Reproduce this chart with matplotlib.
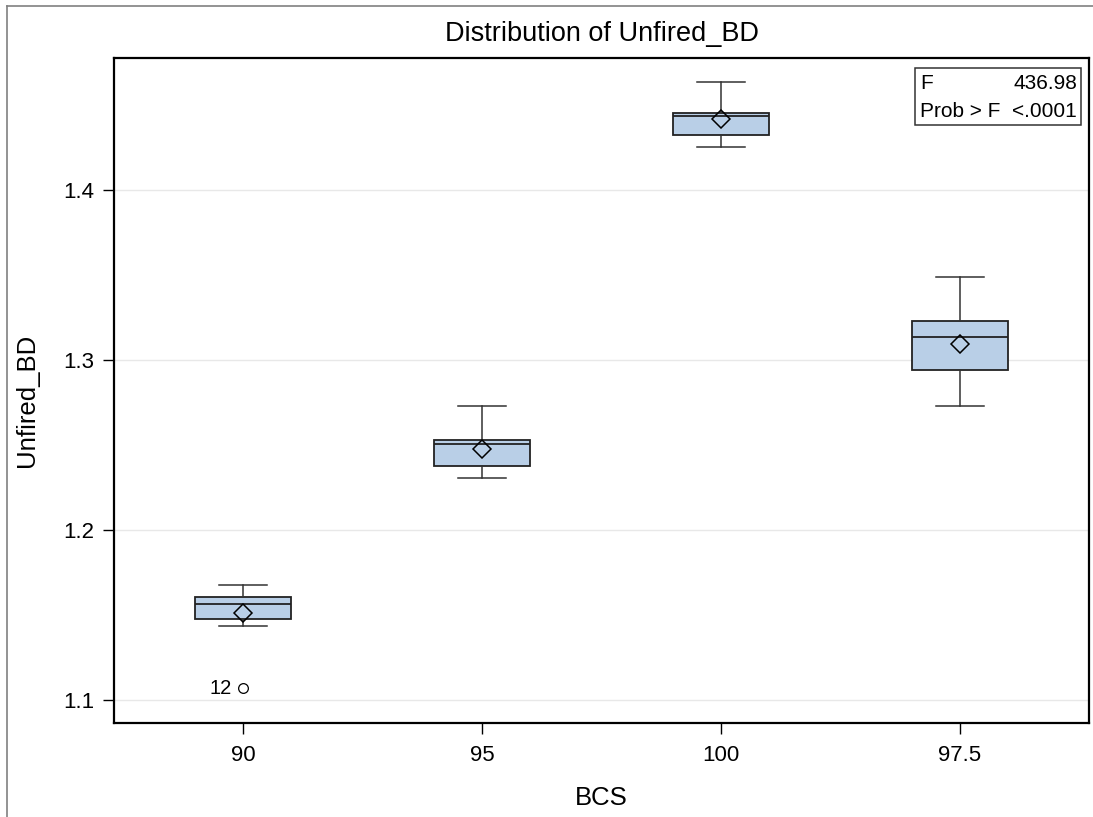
import matplotlib
matplotlib.use('Agg')

import matplotlib.pyplot as plt
from matplotlib.lines import Line2D
from matplotlib.patches import Rectangle

plt.rcParams['font.family'] = ['Liberation Sans', 'DejaVu Sans']

# values
groups = ['90', '95', '100', '97.5']
whisk_hi = [1.1676, 1.2731, 1.4637, 1.3492]
q3 = [1.1608, 1.2529, 1.4456, 1.3231]
medians = [1.1568, 1.2506, 1.4437, 1.3139]
q1 = [1.1476, 1.2378, 1.4325, 1.2943]
whisk_lo = [1.1437, 1.2309, 1.4255, 1.2731]
means = [1.1515, 1.2476, 1.4418, 1.3098]
outliers = [[1.1071], [], [], []]
outlier_ids = [['12'], [], [], []]

f_value = '436.98'
p_value = '<.0001'

stats = []
for i, g in enumerate(groups):
    stats.append(dict(label=g, med=medians[i], q1=q1[i], q3=q3[i],
                      whislo=whisk_lo[i], whishi=whisk_hi[i],
                      mean=means[i], fliers=outliers[i]))

fig = plt.figure(figsize=(10.93, 8.17), dpi=100)
ax = fig.add_axes([114 / 1093, (817 - 723) / 817, 975 / 1093, 665 / 817])

ax.set_axisbelow(True)
ax.yaxis.grid(True, color='#e8e8e8', linewidth=1)

ax.bxp(stats, positions=range(len(groups)), widths=0.4, capwidths=0.2,
       patch_artist=True, showmeans=True,
       boxprops=dict(facecolor='#B9CFE7', edgecolor='#222222', linewidth=1.3),
       medianprops=dict(color='#222222', linewidth=1.3),
       whiskerprops=dict(color='#333333', linewidth=1.1),
       capprops=dict(color='#333333', linewidth=1.1),
       meanprops=dict(marker='D', markerfacecolor='none', markeredgecolor='black',
                      markersize=9.5, markeredgewidth=1.1),
       flierprops=dict(marker='o', markerfacecolor='none', markeredgecolor='black',
                       markersize=7, markeredgewidth=0.9))

# label the outlier with its observation number
for i, (vals, ids) in enumerate(zip(outliers, outlier_ids)):
    for v, lab in zip(vals, ids):
        ax.annotate(lab, xy=(i, v), xytext=(-8, 0), textcoords='offset points',
                    ha='right', va='center', fontsize=14.5)

ax.set_xlim(-0.54, 3.54)
ax.set_ylim(1.0865, 1.4779)
ax.set_yticks([1.1, 1.2, 1.3, 1.4])
ax.set_yticklabels(['1.1', '1.2', '1.3', '1.4'])
ax.tick_params(direction='out', length=8, width=1, labelsize=16, pad=6)
ax.tick_params(axis='x', pad=8)
for s in ax.spines.values():
    s.set_linewidth(1.6)

ax.set_xlabel('BCS', fontsize=18.5, labelpad=14)
ax.set_ylabel('Unfired_BD', fontsize=18.5)
ax.yaxis.set_label_coords(-0.077, 0.485)
ax.set_title('Distribution of Unfired_BD', fontsize=19.5, pad=12)

# F test inset
ax.add_patch(Rectangle((0.8215, 0.899), 0.1703, 0.086, transform=ax.transAxes,
                       facecolor='white', edgecolor='#333333', linewidth=1.1, zorder=5))
ax.text(0.8267, 0.961, 'F', transform=ax.transAxes, ha='left', va='center', fontsize=15, zorder=6)
ax.text(0.9877, 0.961, f_value, transform=ax.transAxes, ha='right', va='center', fontsize=15, zorder=6)
ax.text(0.8267, 0.920, 'Prob > F', transform=ax.transAxes, ha='left', va='center', fontsize=15, zorder=6)
ax.text(0.9877, 0.920, p_value, transform=ax.transAxes, ha='right', va='center', fontsize=15, zorder=6)

# outer frame of the graph (only left and top edges show)
fig.add_artist(Line2D([7 / 1093, 7 / 1093], [0, 1 - 6 / 817], color='#808080',
                      linewidth=1.2, transform=fig.transFigure))
fig.add_artist(Line2D([7 / 1093, 1], [1 - 6 / 817, 1 - 6 / 817], color='#808080',
                      linewidth=1.2, transform=fig.transFigure))

fig.savefig('out.png', dpi=100)
